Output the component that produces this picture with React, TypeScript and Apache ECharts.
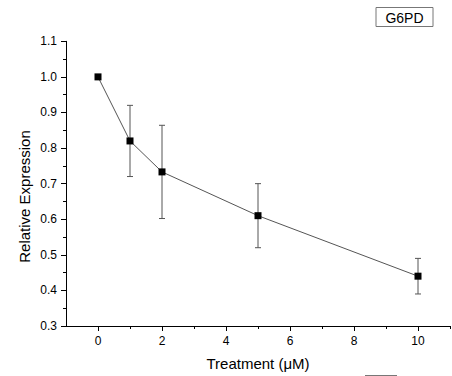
import React, { useEffect, useRef } from "react";
import * as echarts from "echarts";

// Treatment doses (µM) and relative G6PD expression with error bars
const doses = [0, 1, 2, 5, 10];
const expression = [1.0, 0.82, 0.733, 0.61, 0.44];
const errors = [0.004, 0.1, 0.131, 0.09, 0.05];

const xMajorTicks = [0, 2, 4, 6, 8, 10];
const xMinorTicks = [1, 3, 5, 7, 9, 11];

const FONT = '"Liberation Sans", Arial, sans-serif';

export default function App() {
  const ref = useRef<HTMLDivElement>(null);

  useEffect(() => {
    if (!ref.current) return;
    const chart = echarts.init(ref.current, undefined, { renderer: "svg" });

    const points = doses.map((d, i) => [d, expression[i]]);
    const errData = doses.map((d, i) => [d, expression[i], errors[i]]);

    chart.setOption({
      animation: false,
      backgroundColor: "#ffffff",
      grid: { left: 66, right: 2, top: 41.3, bottom: 49.3 },
      xAxis: [
        {
          type: "value",
          min: -1,
          max: 11,
          name: "Treatment (\u03bcM)",
          nameLocation: "middle",
          nameGap: 30,
          nameTextStyle: { fontFamily: FONT, fontSize: 15, color: "#000" },
          axisLine: { show: true, onZero: false, lineStyle: { color: "#000", width: 1 } },
          axisTick: {
            show: true,
            inside: false,
            length: 5,
            customValues: xMajorTicks,
            lineStyle: { color: "#000" },
          },
          axisLabel: {
            customValues: xMajorTicks,
            fontFamily: FONT,
            fontSize: 12,
            color: "#000",
            margin: 9,
          },
          splitLine: { show: false },
        },
        {
          type: "value",
          position: "bottom",
          min: -1,
          max: 11,
          axisLine: { show: false, onZero: false },
          axisTick: {
            show: true,
            length: 3,
            customValues: xMinorTicks,
            lineStyle: { color: "#000" },
          },
          axisLabel: { show: false },
          splitLine: { show: false },
        },
      ],
      yAxis: {
        type: "value",
        min: 0.3,
        max: 1.1,
        interval: 0.1,
        axisLine: { show: true, onZero: false, lineStyle: { color: "#000", width: 1 } },
        axisTick: { show: true, length: 5, lineStyle: { color: "#000" } },
        minorTick: { show: true, splitNumber: 2, length: 3, lineStyle: { color: "#000" } },
        axisLabel: {
          fontFamily: FONT,
          fontSize: 12,
          color: "#000",
          margin: 9,
          formatter: (v: number) => v.toFixed(1),
        },
        splitLine: { show: false },
        minorSplitLine: { show: false },
      },
      graphic: [
        {
          type: "text",
          x: 24,
          y: 196.5,
          rotation: Math.PI / 2,
          style: {
            text: "Relative Expression",
            fontFamily: FONT,
            fontSize: 15,
            fill: "#000",
            textAlign: "center",
            textVerticalAlign: "middle",
          },
        },
        {
          type: "rect",
          shape: { x: 376, y: 7.5, width: 57, height: 19 },
          style: { fill: "#fff", stroke: "#777", lineWidth: 1 },
        },
        {
          type: "text",
          x: 404.5,
          y: 17.5,
          style: {
            text: "G6PD",
            fontFamily: FONT,
            fontSize: 14,
            fill: "#000",
            textAlign: "center",
            textVerticalAlign: "middle",
          },
        },
        {
          type: "line",
          shape: { x1: 365, y1: 375.5, x2: 397, y2: 375.5 },
          style: { stroke: "#777", lineWidth: 1 },
        },
      ],
      series: [
        {
          type: "custom",
          xAxisIndex: 0,
          data: errData,
          z: 1,
          renderItem: (params: any, api: any) => {
            const x = api.value(0);
            const y = api.value(1);
            const e = api.value(2);
            const top = api.coord([x, y + e]);
            const bot = api.coord([x, y - e]);
            const half = 3;
            const style = { stroke: "#555", lineWidth: 1 };
            return {
              type: "group",
              children: [
                { type: "line", shape: { x1: top[0], y1: top[1], x2: bot[0], y2: bot[1] }, style },
                { type: "line", shape: { x1: top[0] - half, y1: top[1], x2: top[0] + half, y2: top[1] }, style },
                { type: "line", shape: { x1: bot[0] - half, y1: bot[1], x2: bot[0] + half, y2: bot[1] }, style },
              ],
            };
          },
        },
        {
          type: "line",
          xAxisIndex: 0,
          data: points,
          z: 3,
          symbol: "rect",
          symbolSize: 7,
          showSymbol: true,
          itemStyle: { color: "#000" },
          lineStyle: { color: "#555", width: 1 },
        },
      ],
    });

    return () => chart.dispose();
  }, []);

  return (
    <div
      ref={ref}
      style={{ position: "fixed", left: 0, top: 0, width: 452, height: 376, background: "#fff" }}
    />
  );
}
